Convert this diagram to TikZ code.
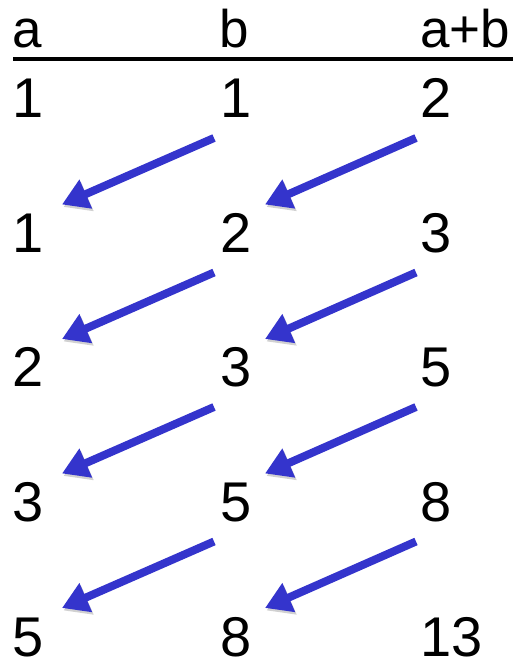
\documentclass[tikz,border=0pt]{standalone}
\usepackage{fontspec}
\setmainfont{Liberation Sans}
\usetikzlibrary{arrows.meta,calc}
\definecolor{fibblue}{RGB}{52,52,204}
\begin{document}
\begin{tikzpicture}[x=1pt,y=1pt,
  hdr/.style={anchor=base west,inner sep=0pt,font=\fontsize{53}{60}\selectfont},
  val/.style={anchor=base west,inner sep=0pt,font=\fontsize{56}{64}\selectfont},
  carry/.style={-{Triangle[length=26pt,width=30pt]},line width=8pt,fibblue,
    preaction={draw=black!18,transform canvas={shift={(1.5,-2.5)}}}}]
\useasboundingbox (0,0) rectangle (518,660);
% header
\node[hdr] (ha) at (12,612) {a};
\node[hdr] (hb) at (219,612) {b};
\node[hdr] (hab) at (420,612) {a+b};
\draw[line width=4pt] ($(ha.base west)+(1,-11)$) -- ($(hab.base east)+(3,-11)$);
% rows
\node[val] (a1) at (12,542) {1};
\node[val] (b1) at (220,542) {1};
\node[val] (c1) at (420,542) {2};
\node[val] (a2) at (12,407.5) {1};
\node[val] (b2) at (220,407.5) {2};
\node[val] (c2) at (420,407.5) {3};
\node[val] (a3) at (12,273) {2};
\node[val] (b3) at (220,273) {3};
\node[val] (c3) at (420,273) {5};
\node[val] (a4) at (12,138.5) {3};
\node[val] (b4) at (220,138.5) {5};
\node[val] (c4) at (420,138.5) {8};
\node[val] (a5) at (12,4) {5};
\node[val] (b5) at (220,4) {8};
\node[val] (c5) at (420,4) {13};
% shifts
\draw[carry] ($(b1.base west)+(-6,-20)$) -- ($(a2.base west)+(50,48)$);
\draw[carry] ($(c1.base west)+(-4,-20)$) -- ($(b2.base west)+(45,48)$);
\draw[carry] ($(b2.base west)+(-6,-20)$) -- ($(a3.base west)+(50,48)$);
\draw[carry] ($(c2.base west)+(-4,-20)$) -- ($(b3.base west)+(45,48)$);
\draw[carry] ($(b3.base west)+(-6,-20)$) -- ($(a4.base west)+(50,48)$);
\draw[carry] ($(c3.base west)+(-4,-20)$) -- ($(b4.base west)+(45,48)$);
\draw[carry] ($(b4.base west)+(-6,-20)$) -- ($(a5.base west)+(50,48)$);
\draw[carry] ($(c4.base west)+(-4,-20)$) -- ($(b5.base west)+(45,48)$);
\end{tikzpicture}
\end{document}
